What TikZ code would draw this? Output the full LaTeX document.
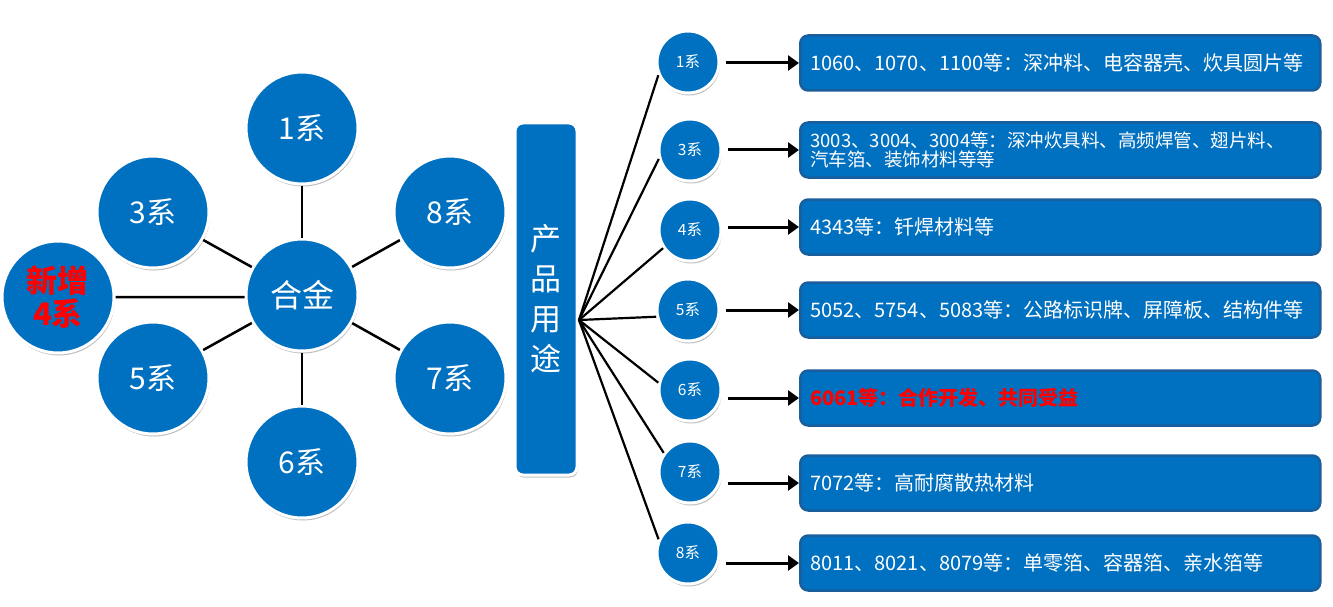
\documentclass[tikz,border=0pt]{standalone}
\usepackage{fontspec}
\setmainfont{Noto Sans CJK SC}
\usetikzlibrary{shadows, arrows.meta}
\definecolor{ballblue}{HTML}{0070C0}
\definecolor{edgeblue}{HTML}{1B5E9E}
\definecolor{newred}{HTML}{FF0000}
\tikzset{
  ballshadow/.style={drop shadow={shadow xshift=1pt, shadow yshift=-2.5pt, fill=black, opacity=0.25}},
  bigball/.style={circle, fill=ballblue, draw=white, line width=3pt, minimum size=112pt, inner sep=0pt, text=white, font=\fontsize{30}{32}\selectfont, ballshadow},
  smallball/.style={circle, fill=ballblue, draw=white, line width=3pt, minimum size=62pt, inner sep=0pt, text=white, font=\fontsize{15.5}{15.5}\selectfont, ballshadow},
  usebox/.style={rectangle, rounded corners=8pt, fill=ballblue, draw=edgeblue, line width=2.5pt, minimum width=520pt, minimum height=55pt, text width=500pt, align=left, inner xsep=10pt, text=white, anchor=west, font=\fontsize{20}{20}\selectfont},
  spoke/.style={line width=2.5pt, black},
  fanline/.style={line width=2.2pt, black},
  usearrow/.style={line width=3pt, black, -{Triangle[length=11pt, width=15pt]}}
}
\begin{document}
\begin{tikzpicture}[x=1pt, y=-1pt]
\useasboundingbox (0,0) rectangle (1333,607);
\node[bigball] (hejin) at (302,295) {\fontsize{32}{32}\selectfont 合金};
\node[bigball] (s1) at (302,128) {1系};
\node[bigball] (s3) at (153,212) {3系};
\node[bigball] (s8) at (450,212) {8系};
\node[bigball] (s5) at (153,378) {5系};
\node[bigball] (s7) at (450,378) {7系};
\node[bigball] (s6) at (302,462) {6系};
\node[bigball, align=center, text=newred, font=\fontsize{31}{33}\selectfont\bfseries] (s4) at (58,297) {新增\\4系};
\draw[spoke] (hejin) -- (s1);
\draw[spoke] (hejin) -- (s3);
\draw[spoke] (hejin) -- (s8);
\draw[spoke] (hejin) -- (s5);
\draw[spoke] (hejin) -- (s7);
\draw[spoke] (hejin) -- (s6);
\draw[spoke] (hejin.182) -- (s4.east);
\node[rectangle, rounded corners=8pt, fill=ballblue, draw=white, line width=3pt, minimum width=62pt, minimum height=352pt, align=center, text=white, font=\fontsize{31}{40}\selectfont, ballshadow] (yongtu) at (546,299) {产\\品\\用\\途};
\coordinate (fan) at (579,320);
\node[smallball] (u1) at (688,62) {1系};
\node[smallball] (u3) at (690,150) {3系};
\node[smallball] (u4) at (690,230) {4系};
\node[smallball] (u5) at (688,310) {5系};
\node[smallball] (u6) at (690,390) {6系};
\node[smallball] (u7) at (690,472) {7系};
\node[smallball] (u8) at (688,553) {8系};
\draw[fanline] (fan) -- (u1.204);
\draw[fanline] (fan) -- (u3.196);
\draw[fanline] (fan) -- (u4.214);
\draw[fanline] (fan) -- (u5.192);
\draw[fanline] (fan) -- (u6.167);
\draw[fanline] (fan) -- (u7.144);
\draw[fanline] (fan) -- (u8.155);
\node[usebox] (b1) at (799,63) {1060、1070、1100等：深冲料、电容器壳、炊具圆片等};
\node[usebox, font=\fontsize{18.5}{17}\selectfont] (b3) at (799,150) {3003、3004、3004等：深冲炊具料、高频焊管、翅片料、\\汽车箔、装饰材料等等};
\node[usebox] (b4) at (799,227) {4343等：钎焊材料等};
\node[usebox] (b5) at (799,310) {5052、5754、5083等：公路标识牌、屏障板、结构件等};
\node[usebox, text=newred, font=\fontsize{20}{20}\selectfont\bfseries] (b6) at (799,398) {6061等：合作开发、共同受益};
\node[usebox] (b7) at (799,483) {7072等：高耐腐散热材料};
\node[usebox] (b8) at (799,563) {8011、8021、8079等：单零箔、容器箔、亲水箔等};
\draw[usearrow] (u1.east |- b1.west) ++(5,0) -- (b1.west);
\draw[usearrow] (u3.east |- b3.west) ++(5,0) -- (b3.west);
\draw[usearrow] (u4.east |- b4.west) ++(5,0) -- (b4.west);
\draw[usearrow] (u5.east |- b5.west) ++(5,0) -- (b5.west);
\draw[usearrow] (u6.east |- b6.west) ++(5,0) -- (b6.west);
\draw[usearrow] (u7.east |- b7.west) ++(5,0) -- (b7.west);
\draw[usearrow] (u8.east |- b8.west) ++(5,0) -- (b8.west);
\end{tikzpicture}
\end{document}
